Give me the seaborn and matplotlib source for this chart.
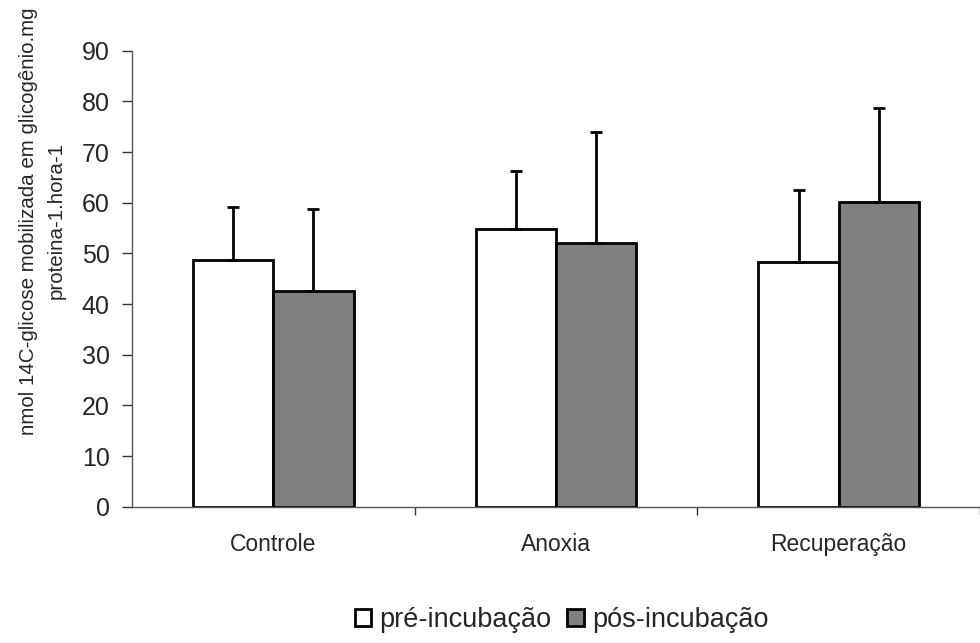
import matplotlib
matplotlib.use("Agg")
import matplotlib.pyplot as plt
import seaborn as sns
import pandas as pd
import numpy as np

categorias = ["Controle", "Anoxia", "Recuperação"]
grupos = ["pré-incubação", "pós-incubação"]
media_pre = [48.7, 54.9, 48.2]
media_pos = [42.6, 52.0, 60.1]
erro_pre = [10.5, 11.4, 14.3]
erro_pos = [16.1, 21.9, 18.5]

df = pd.DataFrame({
    "Categoria": categorias * 2,
    "Grupo": [grupos[0]] * 3 + [grupos[1]] * 3,
    "Valor": media_pre + media_pos,
})

sns.set_theme(style="ticks")
plt.rcParams["font.family"] = ["Liberation Sans", "DejaVu Sans"]

fig = plt.figure(figsize=(9.8, 6.43), dpi=100)
ax = fig.add_axes([132 / 980, 136.3 / 643, 848 / 980, 456 / 643])

sns.barplot(data=df, x="Categoria", y="Valor", hue="Grupo", order=categorias,
            hue_order=grupos, palette=["white", "#808080"], width=0.568,
            edgecolor="black", linewidth=2, errorbar=None, ax=ax)

for cont, err in zip(ax.containers, [erro_pre, erro_pos]):
    xs = [p.get_x() + p.get_width() / 2 for p in cont]
    ys = [p.get_height() for p in cont]
    ax.errorbar(xs, ys, yerr=[np.zeros(len(err)), err], fmt="none",
                ecolor="black", elinewidth=2, capsize=4.5, capthick=2, zorder=1)

ax.set_ylim(0, 90)
ax.set_yticks(range(0, 91, 10))
ax.set_xlim(-0.5, -0.5 + 848 / 285.3)
ax.set_xticks([0.5, 1.5, 2.5], minor=True)
ax.set_xticks([0, 1, 2])
ax.set_xticklabels(categorias, fontsize=16.5)
ax.tick_params(axis="x", which="major", length=0, pad=19)
ax.tick_params(axis="x", which="minor", length=6, width=1, color="#333333")
ax.tick_params(axis="y", length=7, width=1, labelsize=18, pad=9, color="#333333")
for s in ["top", "right"]:
    ax.spines[s].set_visible(False)
for s in ["left", "bottom"]:
    ax.spines[s].set_linewidth(1)
    ax.spines[s].set_color("#555555")

ax.set_xlabel("")
ax.set_ylabel("nmol 14C-glicose mobilizada em glicogênio.mg\nproteina-1.hora-1",
              fontsize=14.8, linespacing=1.6)
ax.yaxis.set_label_coords(-0.078, 0.627)

ax.legend_.remove()
h, l = ax.get_legend_handles_labels()
fig.legend(h, l, loc="center", bbox_to_anchor=(0.573, 1 - 620 / 643), ncol=2,
           frameon=False, fontsize=19.5, handlelength=0.6, handleheight=0.6,
           handletextpad=0.3, columnspacing=0.6)

fig.savefig("out.png", dpi=100)
